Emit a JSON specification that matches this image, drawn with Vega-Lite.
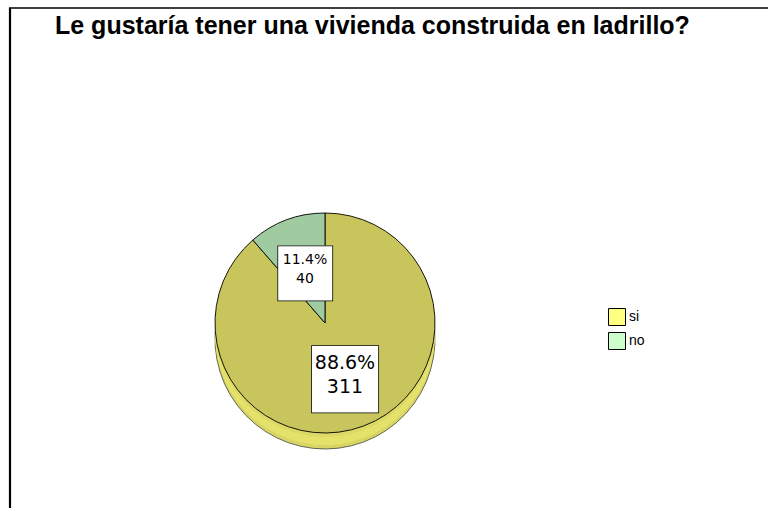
{
  "$schema": "https://vega.github.io/schema/vega-lite/v6.json",
  "autosize": "none",
  "width": 300,
  "height": 220,
  "padding": {"left": 175, "top": 213, "right": 293, "bottom": 75},
  "background": "white",
  "config": {"view": {"stroke": null}},
  "title": {
    "text": "Le gustaría tener una vivienda construida en ladrillo?",
    "anchor": "start",
    "frame": "group",
    "dx": -120,
    "offset": -52,
    "baseline": "alphabetic",
    "font": "Liberation Sans",
    "fontSize": 25,
    "fontWeight": "bold",
    "color": "#000000"
  },
  "data": {
    "values": [
      {"respuesta": "si", "n": 311, "pct": "88.6%"},
      {"respuesta": "no", "n": 40, "pct": "11.4%"}
    ]
  },
  "layer": [
    {
      "data": {"values": [{}]},
      "mark": {"type": "rule", "color": "#000000", "strokeWidth": 2.2},
      "encoding": {"x": {"value": -165}, "y": {"value": -205}, "y2": {"value": 300}}
    },
    {
      "data": {"values": [{}]},
      "mark": {"type": "rule", "color": "#000000", "strokeWidth": 1.5},
      "encoding": {"y": {"value": -205}, "x": {"value": -166}, "x2": {"value": 600}}
    },
    {
      "mark": {"type": "arc", "outerRadius": 110},
      "encoding": {
        "theta": {"field": "n", "type": "quantitative", "stack": true},
        "order": {"field": "n", "type": "quantitative", "sort": "descending"},
        "color": {
          "field": "respuesta",
          "type": "nominal",
          "scale": {"domain": ["si", "no"], "range": ["#ffff80", "#ccffcc"]},
          "legend": {
            "title": null,
            "orient": "none",
            "legendX": 433,
            "legendY": 95,
            "symbolType": "square",
            "symbolSize": 289,
            "symbolStrokeColor": "#000000",
            "symbolStrokeWidth": 1,
            "symbolFillOpacity": 1,
            "rowPadding": 2,
            "labelFont": "Liberation Sans",
            "labelFontSize": 14,
            "labelColor": "#000000",
            "labelOffset": 3
          }
        }
      }
    },
    {
      "mark": {"type": "arc", "outerRadius": 110, "yOffset": 16, "color": "#d8d564", "stroke": "#444444", "strokeWidth": 0.8},
      "encoding": {
        "theta": {"field": "n", "type": "quantitative", "stack": true},
        "order": {"field": "n", "type": "quantitative", "sort": "descending"}
      }
    },
    {
      "mark": {"type": "arc", "outerRadius": 110, "yOffset": 12, "color": "#e4e26b"},
      "encoding": {
        "theta": {"field": "n", "type": "quantitative", "stack": true},
        "order": {"field": "n", "type": "quantitative", "sort": "descending"}
      }
    },
    {
      "mark": {"type": "arc", "outerRadius": 110, "yOffset": 8, "color": "#e4e26b"},
      "encoding": {
        "theta": {"field": "n", "type": "quantitative", "stack": true},
        "order": {"field": "n", "type": "quantitative", "sort": "descending"}
      }
    },
    {
      "mark": {"type": "arc", "outerRadius": 110, "yOffset": 4, "color": "#dcd966"},
      "encoding": {
        "theta": {"field": "n", "type": "quantitative", "stack": true},
        "order": {"field": "n", "type": "quantitative", "sort": "descending"}
      }
    },
    {
      "mark": {"type": "arc", "outerRadius": 110, "stroke": "#000000", "strokeWidth": 0.9},
      "encoding": {
        "theta": {"field": "n", "type": "quantitative", "stack": true},
        "order": {"field": "n", "type": "quantitative", "sort": "descending"},
        "color": {
          "field": "respuesta",
          "type": "nominal",
          "scale": {"domain": ["si", "no"], "range": ["#c9c55d", "#a0cba0"]},
          "legend": null
        }
      }
    },
    {
      "mark": {"type": "text", "text": "■", "font": "DejaVu Sans", "fill": "#ffffff", "stroke": "#000000", "strokeWidth": 0.8, "baseline": "middle", "align": "center", "radius": 57},
      "encoding": {
        "theta": {"field": "n", "type": "quantitative", "stack": true},
        "order": {"field": "n", "type": "quantitative", "sort": "descending"},
        "size": {
          "field": "respuesta",
          "type": "nominal",
          "scale": {"domain": ["si", "no"], "range": [88, 72]},
          "legend": null
        }
      }
    },
    {
      "mark": {"type": "text", "font": "DejaVu Sans", "color": "#000000", "baseline": "bottom", "align": "center", "radius": 57, "dy": -3},
      "encoding": {
        "theta": {"field": "n", "type": "quantitative", "stack": true},
        "order": {"field": "n", "type": "quantitative", "sort": "descending"},
        "text": {"field": "pct", "type": "nominal"},
        "size": {
          "field": "respuesta",
          "type": "nominal",
          "scale": {"domain": ["si", "no"], "range": [19, 14]},
          "legend": null
        }
      }
    },
    {
      "mark": {"type": "text", "font": "DejaVu Sans", "color": "#000000", "baseline": "top", "align": "center", "radius": 57, "dy": 2},
      "encoding": {
        "theta": {"field": "n", "type": "quantitative", "stack": true},
        "order": {"field": "n", "type": "quantitative", "sort": "descending"},
        "text": {"field": "n", "type": "quantitative"},
        "size": {
          "field": "respuesta",
          "type": "nominal",
          "scale": {"domain": ["si", "no"], "range": [19, 14]},
          "legend": null
        }
      }
    }
  ],
  "resolve": {"scale": {"color": "independent", "size": "independent"}}
}
